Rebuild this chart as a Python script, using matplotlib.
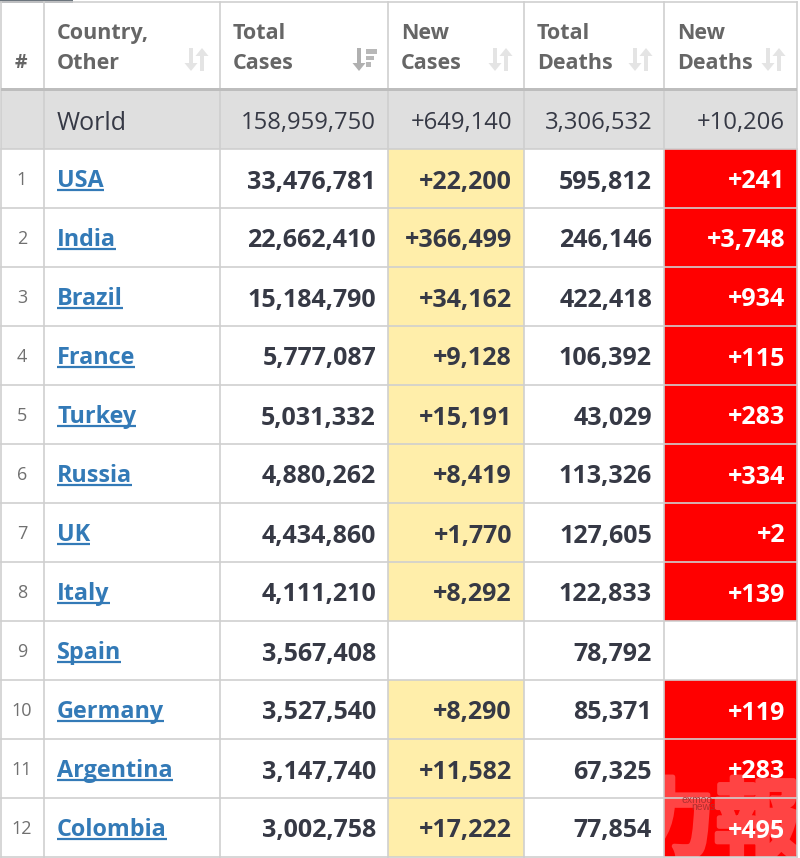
import matplotlib
matplotlib.use('Agg')
import matplotlib.pyplot as plt
import matplotlib.patheffects as pe
from matplotlib.patches import Rectangle, Polygon

ranks = [str(i) for i in range(1, 13)]
countries = ['USA', 'India', 'Brazil', 'France', 'Turkey', 'Russia', 'UK', 'Italy', 'Spain', 'Germany', 'Argentina', 'Colombia']
total_cases = ['33,476,781', '22,662,410', '15,184,790', '5,777,087', '5,031,332', '4,880,262', '4,434,860', '4,111,210', '3,567,408', '3,527,540', '3,147,740', '3,002,758']
new_cases = ['+22,200', '+366,499', '+34,162', '+9,128', '+15,191', '+8,419', '+1,770', '+8,292', '', '+8,290', '+11,582', '+17,222']
total_deaths = ['595,812', '246,146', '422,418', '106,392', '43,029', '113,326', '127,605', '122,833', '78,792', '85,371', '67,325', '77,854']
new_deaths = ['+241', '+3,748', '+934', '+115', '+283', '+334', '+2', '+139', '', '+119', '+283', '+495']
world = ['World', '158,959,750', '+649,140', '3,306,532', '+10,206']
headers = [('', '#'), ('Country,', 'Other'), ('Total', 'Cases'), ('New', 'Cases'), ('Total', 'Deaths'), ('New', 'Deaths')]

W, H = 800, 858
col_x = [1, 44, 220, 388, 524, 664, 797]
row_h = 59
y0 = 149
GRID = '#cfcfcf'
TXT = '#363945'
HEAD = '#666666'
FONT = 'Open Sans'

fig = plt.figure(figsize=(W / 100, H / 100), dpi=100)
ax = fig.add_axes([0, 0, 1, 1])
ax.set_xlim(0, W)
ax.set_ylim(H, 0)
ax.axis('off')


def rect(x, y, w, h, c, z=1, **k):
    ax.add_patch(Rectangle((x, y), w, h, facecolor=c, edgecolor='none', zorder=z, **k))


def txt(x, y, s, **k):
    k.setdefault('family', FONT)
    k.setdefault('va', 'center_baseline')
    k.setdefault('zorder', 5)
    return ax.text(x, y, s, **k)


def sort_arrow(x, top, bottom, down, color):
    """Thin shaft with a triangular head, as in the table's sort icons."""
    rect(x - 2, top + (0 if down else 7), 4, bottom - top - 7, color, z=5)
    if down:
        pts = [(x - 6.5, bottom - 8), (x + 6.5, bottom - 8), (x, bottom)]
    else:
        pts = [(x - 6.5, top + 8), (x + 6.5, top + 8), (x, top)]
    ax.add_patch(Polygon(pts, closed=True, facecolor=color, edgecolor='none', zorder=5))


rect(0, 0, 73, 3, '#6c757d')
rect(col_x[0], 91, col_x[-1] - col_x[0], 58, '#dfdfdf')
rect(col_x[0], 88, col_x[-1] - col_x[0], 3, '#bdbdbd', z=3)

for i in range(len(countries)):
    y = y0 + i * row_h
    if new_cases[i]:
        rect(col_x[3], y, col_x[4] - col_x[3], row_h, '#ffeeaa')
    if new_deaths[i]:
        rect(col_x[5], y, col_x[6] - col_x[5], row_h, '#ff0000')

# header
for j, (a, b) in enumerate(headers):
    if j == 0:
        txt(21, 61, b, fontsize=14, fontweight='bold', color=HEAD, ha='center')
    else:
        x = col_x[j] + 13
        txt(x, 31, a, fontsize=15.5, fontweight='bold', color=HEAD)
        txt(x, 61, b, fontsize=15.5, fontweight='bold', color=HEAD)
        xr = col_x[j + 1] - 24
        if j == 2:
            sort_arrow(xr - 5, 48, 71, True, '#b0b0b0')
            for n, wd in enumerate([11, 8, 5]):
                rect(xr + 2, 49 + n * 6.5, wd, 4.5, '#b8b8b8', z=5)
        else:
            sort_arrow(xr - 5, 48, 71, True, '#e4e4e4')
            sort_arrow(xr + 6, 48, 71, False, '#e4e4e4')

# world row
yw = 120
txt(57, yw, world[0], fontsize=18, color=TXT)
for j, s in enumerate(world[1:]):
    txt(col_x[j + 3] - 12, yw, s, fontsize=17.1, color=TXT, ha='right')

# body
link_texts = []
for i in range(len(countries)):
    y = y0 + i * row_h + 30
    txt(22, y - 1, ranks[i], fontsize=13, color='#707070', ha='center')
    link_texts.append(txt(57, y - 1, countries[i], fontsize=16.8, fontweight='bold', color='#337ab7'))
    for j, (col, c) in enumerate(zip([total_cases, new_cases, total_deaths, new_deaths],
                                     [TXT, TXT, TXT, 'white'])):
        txt(col_x[j + 3] - 12, y, col[i], fontsize=18, fontweight='bold', color=c, ha='right')

# grid
for x in col_x:
    ax.plot([x, x], [2, H - 1], color=GRID, lw=1.2, zorder=2)
for y in [2] + [y0 + i * row_h for i in range(len(countries) + 1)]:
    ax.plot([col_x[0], col_x[-1]], [y - 0.5, y - 0.5], color=GRID, lw=1.2, zorder=2)

# underlines measured from the real text extents
fig.canvas.draw()
r = fig.canvas.get_renderer()
inv = ax.transData.inverted()
for i, t in enumerate(link_texts):
    bb = t.get_window_extent(r)
    x0, _ = inv.transform((bb.x0, 0))
    x1, _ = inv.transform((bb.x1, 0))
    yy = y0 + i * row_h + 41
    ax.plot([x0, x1], [yy, yy], color='#337ab7', lw=1.6, zorder=5, solid_capstyle='butt')

# watermark: tint on the red cells only, thickened by a stroke, clipped to the cell column
clip = Rectangle((665, 770), 132, 87, transform=ax.transData)
for ch, xc in [('報', 757), ('力', 672)]:
    wm = ax.text(xc, 850, ch, family='Noto Sans CJK TC', fontweight='bold', fontsize=62,
                 color='#ff4444', ha='center', va='baseline', zorder=1.5, clip_on=True)
    wm.set_clip_path(clip)
    wm.set_path_effects([pe.Stroke(linewidth=3.5, foreground='#ff4444'), pe.Normal()])
ax.text(697, 800, 'exmoo', family='Liberation Sans', fontsize=7.5, color='#b03030', ha='center', va='center', zorder=4)
ax.text(703, 807, 'news', family='Liberation Sans', fontsize=7.5, color='#b03030', ha='center', va='center', zorder=4)

fig.savefig('out.png', dpi=100)
